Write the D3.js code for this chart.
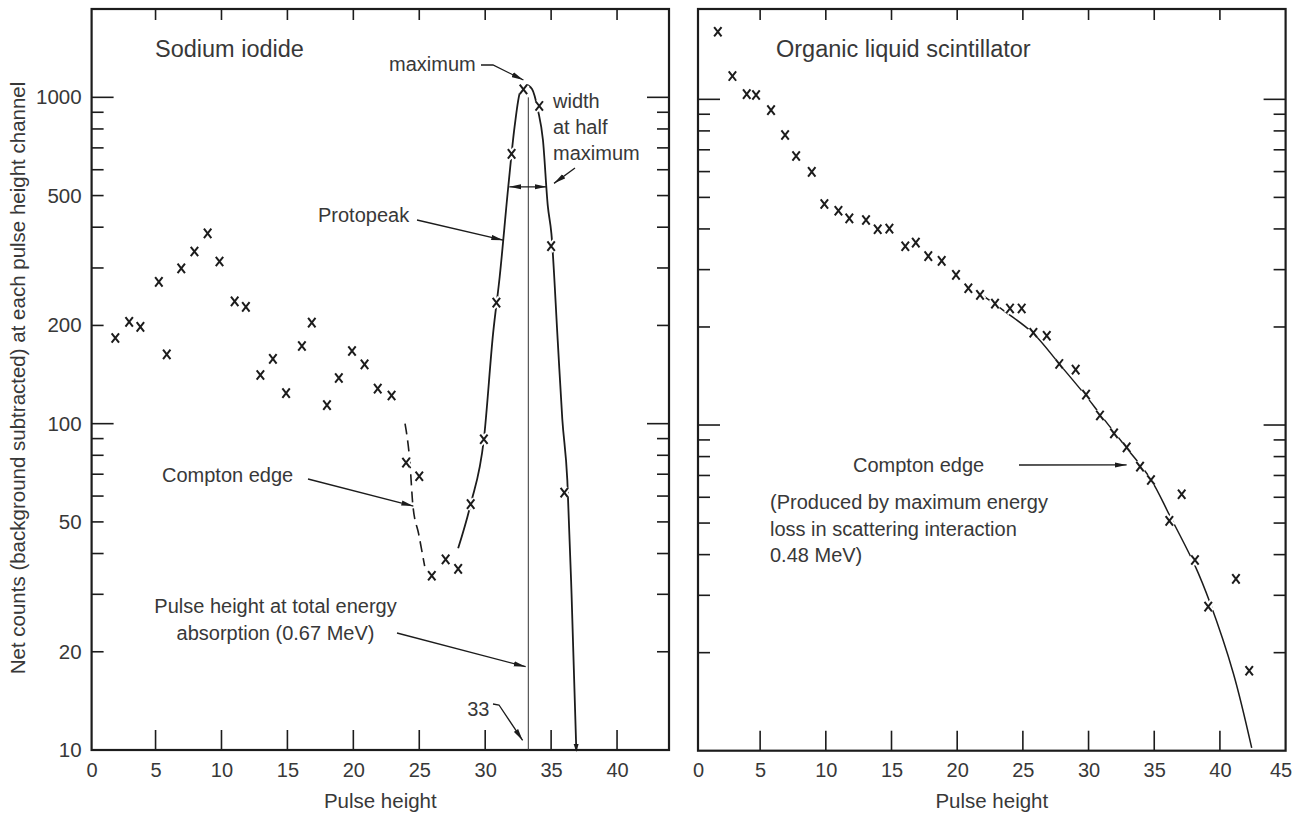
<!DOCTYPE html>
<html><head><meta charset="utf-8">
<script src="https://cdn.jsdelivr.net/npm/d3@7"></script>
<style>
body{margin:0;background:#fff}
text{font-family:"Liberation Sans",Arial,Helvetica,sans-serif;fill:#383838}
</style>
</head><body>
<svg id="chart" width="1304" height="815"></svg>
<script>
// ---------------- data ----------------
const xTicksLeft = [0,5,10,15,20,25,30,35,40];
const xTicksRight = [0,5,10,15,20,25,30,35,40,45];
const yTickLabels = [10,20,50,100,200,500,1000];
const yDecades = [10,100,1000];

// Sodium iodide spectrum (pulse height channel, net counts)
const naiPulse  = [1.95,3.0,3.85,5.25,5.85,6.95,7.95,8.95,9.85,11.0,11.85,12.95,13.9,14.9,16.1,16.85,18.0,18.9,19.9,20.85,21.85,22.9,24.0,25.0,25.95,27.0,27.95,28.9,29.9,30.85,32.0,32.9,34.1,35.0,36.0];
const naiCounts = [183,205,198,272,163,299,337,383,314,237,228,141,158,124,173,204,114,138,167,152,128,122,76,69,34.2,38.4,35.9,56.7,89.6,235,671,1058,941,350,61.5];

// Photopeak fitted curve
const peakPulse  = [27.95,28.9,29.9,30.6,31.1,31.75,32.23,32.65,33.12,33.55,34.0,34.38,34.75,35.02,35.5,35.85,36.23,36.55,36.91];
const peakCounts = [41.5,56.7,89.6,189,282,532,813,1040,1092,1060,914,740,464,383,180,103,67,30,10];

// Compton edge (dashed) curve
const edgePulse  = [23.92,24.28,24.52,24.95,25.41];
const edgeCounts = [100,77,56,46,36.6];

// Organic liquid scintillator spectrum
const olsPulse  = [1.78,2.89,3.98,4.69,5.83,6.90,7.74,8.93,9.89,10.96,11.79,13.06,13.95,14.84,16.05,16.85,17.80,18.82,19.91,20.85,21.74,22.88,24.02,24.91,25.80,26.82,27.77,29.02,29.81,30.87,31.94,32.90,33.92,34.75,36.15,37.09,38.10,39.11,41.22,42.23];
const olsCounts = [1613,1179,1038,1031,927,777,670,599,477,455,431,426,399,401,354,363,330,319,289,263,251,236,228,228,192,188,154,148,124,107,94.3,85.4,74.5,67.8,50.8,61.3,38.5,27.7,33.7,17.6];

// Fitted curve for the scintillator
const olsCurvePulse  = [21.74,23.64,25.80,27.83,29.86,30.87,32.90,34.75,36.15,38.10,39.24,41.02,42.42];
const olsCurveCounts = [253,223,191,153,122,108,85,68,53,37,28.5,17.3,10.2];

// ---------------- layout ----------------
const svg = d3.select("#chart");
svg.append("rect").attr("width",1304).attr("height",815).attr("fill","#fff");
const INK = "#1c1c1c";

const defs = svg.append("defs");
defs.append("marker").attr("id","arr").attr("viewBox","0 0 12 6")
  .attr("markerUnits","userSpaceOnUse").attr("markerWidth",12).attr("markerHeight",6)
  .attr("refX",12).attr("refY",3).attr("orient","auto-start-reverse")
  .append("path").attr("d","M0,0.4L12,3L0,5.6Z").attr("fill",INK);
defs.append("marker").attr("id","arrSmall").attr("viewBox","0 0 8 6")
  .attr("markerUnits","userSpaceOnUse").attr("markerWidth",8).attr("markerHeight",6)
  .attr("refX",6).attr("refY",3).attr("orient","auto")
  .append("path").attr("d","M0,0.5L8,3L0,5.5Z").attr("fill",INK);

const xL = d3.scaleLinear().domain([0.15,43.94]).range([91.6,669]);
const yL = d3.scaleLog().domain([10,1865]).range([750,9]);
const xR = d3.scaleLinear().domain([0.27,45]).range([698,1285.6]);
const yR = d3.scaleLog().domain([10,1894]).range([750.7,9]);

const yTickMarks = [];
[10,100].forEach(d => { for (let k=2;k<=9;k++) yTickMarks.push(d*k); });
yTickMarks.push(100, 1000);

function drawFrame(x, y, xTickVals){
  const g = svg.append("g");
  const [x0,x1] = x.range(), [y0,y1] = y.range();
  const xt = xTickVals.filter(v => x(v) > x0+3 && x(v) < x1-3);
  g.selectAll(".bt").data(xt).join("line")
    .attr("x1",d=>x(d)).attr("x2",d=>x(d)).attr("y1",y0).attr("y2",y0-20)
    .attr("stroke",INK).attr("stroke-width",1.6);
  g.selectAll(".tt").data(xt).join("line")
    .attr("x1",d=>x(d)).attr("x2",d=>x(d)).attr("y1",y1).attr("y2",y1+11)
    .attr("stroke",INK).attr("stroke-width",1.6);
  const len = d => yDecades.includes(d) ? 22 : 12;
  g.selectAll(".lt").data(yTickMarks).join("line")
    .attr("x1",x0).attr("x2",d=>x0+len(d)).attr("y1",d=>y(d)).attr("y2",d=>y(d))
    .attr("stroke",INK).attr("stroke-width",1.6);
  g.selectAll(".rt").data(yTickMarks).join("line")
    .attr("x1",x1).attr("x2",d=>x1-len(d)).attr("y1",d=>y(d)).attr("y2",d=>y(d))
    .attr("stroke",INK).attr("stroke-width",1.6);
  g.append("rect").attr("x",x0).attr("y",y1).attr("width",x1-x0).attr("height",y0-y1)
    .attr("fill","none").attr("stroke",INK).attr("stroke-width",2.2);
  const ax = svg.append("g").attr("transform",`translate(0,${y0})`)
    .call(d3.axisBottom(x).tickValues(xTickVals).tickSize(0).tickPadding(12.5));
  ax.select(".domain").remove();
  ax.selectAll("text").attr("font-size",20).attr("font-family",null).attr("fill","#383838")
    .attr("x",d => d===45 ? -5 : (d===0 ? x0 - x(0) : 0));
  svg.append("text").attr("x",(x0+x1)/2).attr("y",808).attr("text-anchor","middle")
    .attr("font-size",20.5).text("Pulse height");
}

drawFrame(xL, yL, xTicksLeft);
drawFrame(xR, yR, xTicksRight);

const ay = svg.append("g").attr("transform",`translate(${xL.range()[0]},0)`)
  .call(d3.axisLeft(yL).tickValues(yTickLabels).tickFormat(d3.format("d")).tickSize(0).tickPadding(10));
ay.select(".domain").remove();
ay.selectAll("text").attr("font-size",20.5).attr("font-family",null).attr("fill","#383838");

svg.append("text").attr("transform","translate(25,378) rotate(-90)")
  .attr("text-anchor","middle").attr("font-size",20.5)
  .text("Net counts (background subtracted) at each pulse height channel");

svg.append("text").attr("x",155).attr("y",57).attr("font-size",23.5).text("Sodium iodide");
svg.append("text").attr("x",776).attr("y",57).attr("font-size",23.5).text("Organic liquid scintillator");

// ---------------- curves ----------------
function curve(x, y, px, py, c){
  return d3.line().x(d=>x(d[0])).y(d=>y(d[1])).curve(c)(px.map((p,i)=>[p,py[i]]));
}
svg.append("path").attr("d",curve(xL,yL,peakPulse,peakCounts,d3.curveMonotoneX))
  .attr("fill","none").attr("stroke",INK).attr("stroke-width",1.8)
  .attr("marker-end","url(#arrSmall)");
svg.append("path").attr("d",curve(xL,yL,edgePulse,edgeCounts,d3.curveMonotoneX))
  .attr("fill","none").attr("stroke",INK).attr("stroke-width",1.6).attr("stroke-dasharray","11,6");
svg.append("path").attr("d",curve(xR,yR,olsCurvePulse,olsCurveCounts,d3.curveCatmullRom.alpha(0.5)))
  .attr("fill","none").attr("stroke",INK).attr("stroke-width",1.5);

svg.append("line").attr("x1",xL(33.27)).attr("x2",xL(33.27)).attr("y1",yL(1000)).attr("y2",yL(10))
  .attr("stroke","#333").attr("stroke-width",1);

// ---------------- markers ----------------
const xPath = "M-3.7,-4.7L3.7,4.7M-3.7,4.7L3.7,-4.7";
function drawMarkers(x, y, px, py){
  const data = px.map((p,i)=>[p,py[i]]);
  const g = svg.append("g");
  g.selectAll(".h").data(data).join("path").attr("d",xPath)
    .attr("transform",d=>`translate(${x(d[0])},${y(d[1])})`)
    .attr("stroke","#fff").attr("stroke-width",6).attr("fill","none");
  g.selectAll(".m").data(data).join("path").attr("d",xPath)
    .attr("transform",d=>`translate(${x(d[0])},${y(d[1])})`)
    .attr("stroke",INK).attr("stroke-width",2).attr("fill","none");
}
drawMarkers(xL,yL,naiPulse,naiCounts);
drawMarkers(xR,yR,olsPulse,olsCounts);

// ---------------- annotations ----------------
function arrow(points, opts={}){
  const p = svg.append("path").attr("d",d3.line()(points)).attr("fill","none")
    .attr("stroke",INK).attr("stroke-width",1.3).attr("marker-end","url(#arr)");
  if (opts.both) p.attr("marker-start","url(#arr)");
  return p;
}
function label(x, y, lines, size=20, anchor="start", lh=26){
  const t = svg.append("text").attr("font-size",size).attr("text-anchor",anchor);
  lines.forEach((s,i)=>t.append("tspan").attr("x",x).attr("y",y+i*lh).text(s));
}
label(389,71,["maximum"]);
arrow([[481,65],[493,65],[xL(32.9),yL(1130)]]);
label(553,108,["width","at half","maximum"],20,"start",26);
arrow([[575,168],[xL(35.22),yL(545)]]);
arrow([[xL(31.83),yL(532)],[xL(34.66),yL(532)]],{both:true});
label(318,222,["Protopeak"]);
arrow([[417,220],[xL(31.37),yL(365)]]);
label(162,482,["Compton edge"]);
arrow([[308,479],[xL(24.55),yL(55.9)]]);
label(275.5,613,["Pulse height at total energy","absorption (0.67 MeV)"],20,"middle",27);
arrow([[397,633],[xL(33.07),yL(18)]]);
label(489.5,716,["33"],20,"end");
arrow([[493,704],[499,705],[xL(32.84),yL(10.7)]]);
label(853,472,["Compton edge"]);
arrow([[1019,465],[xR(32.9),yR(75.4)]]);
label(770,509,["(Produced by maximum energy","loss in scattering interaction","0.48 MeV)"],20,"start",26.5);
</script>
</body></html>
